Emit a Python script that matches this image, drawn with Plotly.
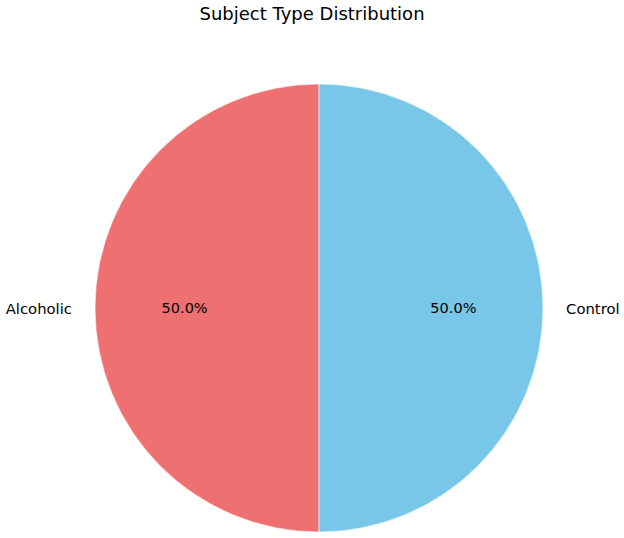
import plotly.graph_objects as go

labels = ["Alcoholic", "Control"]
values = [50, 50]
colors = ["#EE7070", "#78C6E8"]

W, H = 624, 538
cx, cy, r = 319, 308, 224
dom_x = [(cx - r) / W, (cx + r) / W]
dom_y = [1 - (cy + r) / H, 1 - (cy - r) / H]
nb = "\u00a0" * 4
common = dict(labels=labels, values=values, sort=False, direction="counterclockwise", rotation=180,
              domain=dict(x=dom_x, y=dom_y), showlegend=False)

fig = go.Figure()
# coloured wedges
fig.add_trace(go.Pie(
    **common,
    marker=dict(colors=colors, line=dict(color="rgba(255,255,255,0.6)", width=1)),
    textinfo="none", hoverinfo="label+percent",
))
# percentage labels (transparent ring so text sits at 0.6 r)
fig.add_trace(go.Pie(
    **common, hole=0.2,
    marker=dict(colors=["rgba(0,0,0,0)", "rgba(0,0,0,0)"]),
    textinfo="percent", texttemplate="%{percent:.1%}", textposition="inside",
    insidetextorientation="horizontal",
    textfont=dict(family="DejaVu Sans", size=14.5, color="black"),
    hoverinfo="skip",
))
# category labels outside
fig.add_trace(go.Pie(
    **common,
    marker=dict(colors=["rgba(0,0,0,0)", "rgba(0,0,0,0)"]),
    textinfo="label", texttemplate=["%{label}" + nb, nb + "%{label}"], textposition="outside",
    outsidetextfont=dict(family="DejaVu Sans", size=14.8, color="black"),
    hoverinfo="skip",
))
fig.update_layout(
    width=W, height=H, paper_bgcolor="white", plot_bgcolor="white",
    margin=dict(l=0, r=0, t=0, b=0),
    title=dict(text="Subject Type Distribution", x=0.5, xanchor="center", y=1 - 13.5 / H, yanchor="middle",
               font=dict(family="DejaVu Sans", size=18, color="black")),
)
fig.write_html("out.html", config={"displayModeBar": False},
               post_script="document.body.style.margin='0';")
